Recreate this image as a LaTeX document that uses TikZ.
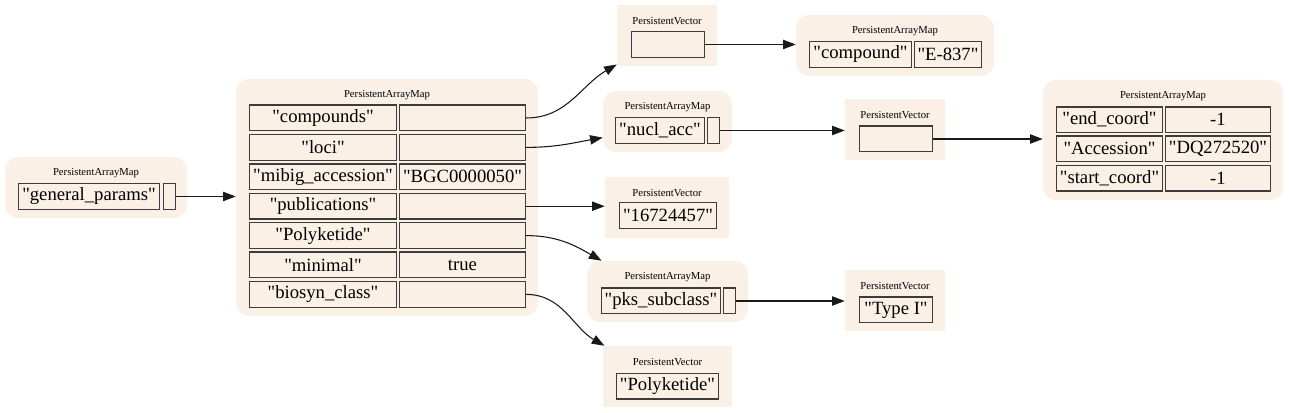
\documentclass[tikz,border=0pt]{standalone}
\usepackage{fontspec}
\newfontfamily\graphfont{Liberation Serif}
\usetikzlibrary{arrows.meta}
\definecolor{linen}{HTML}{FAF0E6}
\definecolor{cellline}{HTML}{3C3C3C}

\begin{document}
\begin{tikzpicture}[x=0.75pt, y=-0.75pt, >={Triangle[length=9.5pt, width=7pt]},
  mapbox/.style={fill=linen, rounded corners=10pt, minimum height=45.75pt, inner sep=0pt},
  vecbox/.style={fill=linen, minimum height=45.75pt, inner sep=0pt},
  title/.style={font=\graphfont\fontsize{8}{9}\selectfont, inner sep=0pt},
  cell/.style={draw=cellline, fill=linen, line width=1pt, minimum height=19.25pt,
    inner xsep=1pt, inner ysep=0pt, font=\graphfont\fontsize{14}{16}\selectfont},
  link/.style={->, line width=0.8pt, black!90}]
  \useasboundingbox (0,0) rectangle (1289,413);
  % general params
  \node[mapbox, minimum width=136.5pt] (gen) at (96,187.5) {};
  \node[title] (genl) at (96,173) {PersistentArrayMap};
  \node[cell, minimum width=105.5pt] (gk) at (89,196.5) {"general\_params"};
  \node[cell, minimum width=8.75pt] (gv) at (169.5,196.5) {};
  % top level map
  \node[mapbox, minimum width=226.5pt, minimum height=177.75pt] (main) at (387,197.5) {};
  \node[title] (mainl) at (387,95) {PersistentArrayMap};
  \foreach \k/\v [count=\i] in {"compounds"/{}, "loci"/{},
      "mibig\_accession"/"BGC0000050", "publications"/{}, "Polyketide"/{},
      "minimal"/true, "biosyn\_class"/{}} {
    \node[cell, minimum width=110pt] (k\i) at (323,88.6+29.4*\i) {\k};
    \node[cell, minimum width=94.25pt] (v\i) at (462.5,88.6+29.4*\i) {\v};
  }
  % compounds
  \node[vecbox, minimum width=75pt] (cvec) at (667,35.5) {};
  \node[title] (cvecl) at (667,21) {PersistentVector};
  \node[cell, minimum width=54.5pt] (cv) at (668,44.5) {};
  \node[mapbox, minimum width=148.5pt] (cmap) at (895,45.5) {};
  \node[title] (cmapl) at (895,31) {PersistentArrayMap};
  \node[cell, minimum width=76.25pt] (ck) at (860.5,54.5) {"compound"};
  \node[cell, minimum width=50pt] (cval) at (948,54.5) {"E-837"};
  % loci
  \node[mapbox, minimum width=96.75pt] (nmap) at (667.5,121.5) {};
  \node[title] (nmapl) at (667.5,107) {PersistentArrayMap};
  \node[cell, minimum width=66.5pt] (nk) at (660,130.5) {"nucl\_acc"};
  \node[cell, minimum width=8.75pt] (nv) at (713.5,130.5) {};
  \node[vecbox, minimum width=75pt] (lvec) at (895,129.5) {};
  \node[title] (lvecl) at (895,115) {PersistentVector};
  \node[cell, minimum width=54.5pt] (lv) at (896,139) {};
  \node[mapbox, minimum width=180pt, minimum height=90pt] (lmap) at (1163,140) {};
  \node[title] (lmapl) at (1163,96) {PersistentArrayMap};
  \foreach \k/\v [count=\i] in {"end\_coord"/-1, "Accession"/"DQ272520",
      "start\_coord"/-1} {
    \node[cell, minimum width=79.25pt] (lk\i) at (1109.5,90.5+29.2*\i) {\k};
    \node[cell, minimum width=78.5pt] (lval\i) at (1218,90.5+29.2*\i) {\v};
  }
  % publications
  \node[vecbox, minimum width=93pt] (pvec) at (667,207.5) {};
  \node[title] (pvecl) at (667,193) {PersistentVector};
  \node[cell, minimum width=72.5pt] (pv) at (668,215.5) {"16724457"};
  % Polyketide
  \node[mapbox, minimum width=120.75pt] (kmap) at (667.5,291.5) {};
  \node[title] (kmapl) at (667.5,277) {PersistentArrayMap};
  \node[cell, minimum width=89pt] (kk) at (661,301) {"pks\_subclass"};
  \node[cell, minimum width=8.75pt] (kv) at (729.5,301) {};
  \node[vecbox, minimum width=75pt] (tvec) at (895,300.5) {};
  \node[title] (tvecl) at (895,286) {PersistentVector};
  \node[cell, minimum width=54.5pt] (tv) at (896,310) {"Type I"};
  % biosyn_class
  \node[vecbox, minimum width=96.75pt] (yvec) at (667.5,376.5) {};
  \node[title] (yvecl) at (667.5,362) {PersistentVector};
  \node[cell, minimum width=76.25pt] (yv) at (667.5,386) {"Polyketide"};
  % edges
  \draw[link] (gv.east) -- (gv.east -| main.west);
  \draw[link] (v1.east) to[out=0, in=210] (cvec.-150);
  \draw[link] (v2.east) to[out=0, in=190] (nmap.194);
  \draw[link] (v4.east) -- (v4.east -| pvec.west);
  \draw[link] (v5.east) to[out=0, in=150] (kmap.155);
  \draw[link] (v7.east) to[out=0, in=150] (yvec.154);
  \draw[link] (cv.east) -- (cv.east -| cmap.west);
  \draw[link] (nv.east) -- (nv.east -| lvec.west);
  \draw[link] (lv.east) -- (lv.east -| lmap.west);
  \draw[link] (kv.east) -- (kv.east -| tvec.west);
\end{tikzpicture}
\end{document}
